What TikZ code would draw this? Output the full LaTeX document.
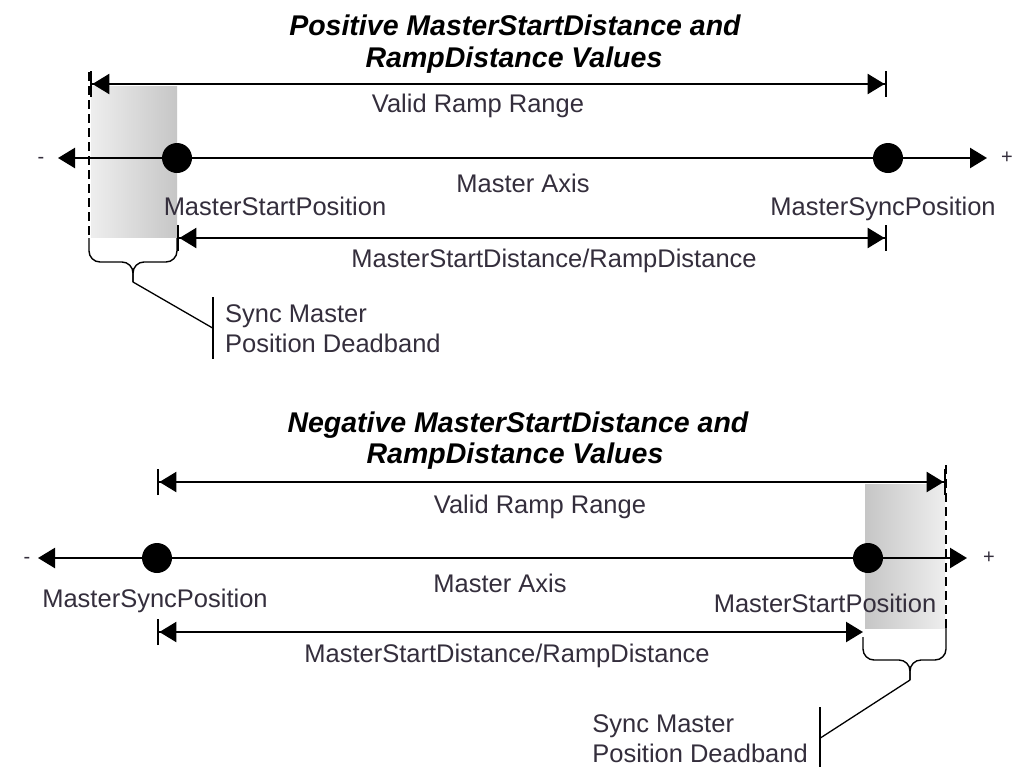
\documentclass[tikz,border=0pt]{standalone}
\usepackage{fontspec}
\setmainfont{Liberation Sans}
\usetikzlibrary{arrows.meta}
\definecolor{labelgray}{RGB}{52,46,60}
\definecolor{bandlight}{RGB}{238,238,238}
\definecolor{banddark}{RGB}{198,198,198}

\tikzset{
  heading/.style={font=\fontsize{28.5}{33}\selectfont\bfseries\itshape, anchor=base, inner sep=0pt},
  lbl/.style={font=\fontsize{25.5}{30}\selectfont, text=labelgray, anchor=base, inner sep=0pt},
  sign/.style={font=\fontsize{20}{22}\selectfont, text=labelgray, inner sep=0pt},
  posdot/.style={circle, fill=black, minimum size=30pt, inner sep=0pt},
  axisline/.style={line width=2.4pt, {Triangle[length=17pt,width=20pt]}-{Triangle[length=17pt,width=20pt]}},
  rangeline/.style={line width=2.4pt, {Bar[width=26pt]Triangle[length=17pt,width=20pt,sep=0pt]}-{Triangle[length=17pt,width=20pt,sep=0pt]Bar[width=26pt]}},
  rangeopen/.style={line width=2.4pt, {Bar[width=26pt]Triangle[length=17pt,width=20pt,sep=0pt]}-{Triangle[length=17pt,width=20pt]}},
  bandedge/.style={line width=1.4pt, dash pattern=on 9pt off 5pt},
  bracket/.style={line width=1.4pt, rounded corners=11pt},
  leader/.style={line width=1.3pt},
  dbtext/.style={font=\fontsize{25.5}{30}\selectfont, text=labelgray, align=left, inner xsep=12pt, inner ysep=7pt}
}

\begin{document}
\begin{tikzpicture}[x=1pt, y=-1pt]
  \useasboundingbox[fill=white] (0,0) rectangle (1014,766);

  % ---- positive distances ----
  \node[heading] (headA1) at (515,35) {Positive MasterStartDistance and};
  \node[heading] (headA2) at (514,67) {RampDistance Values};

  % deadband band behind the lines
  \shade[left color=bandlight, right color=banddark] (91,86) rectangle (177,237);

  \coordinate (rampA1) at (90,84);
  \coordinate (rampA2) at (887,84);
  \draw[rangeline] (rampA1) -- (rampA2);
  \node[lbl] (rampAlbl) at (478,112) {Valid Ramp Range};

  \coordinate (axA1) at (58,158);
  \coordinate (axA2) at (987,158);
  \draw[axisline] (axA1) -- (axA2);
  \node[sign] (minusA) at (41,160) {-};
  \node[sign] (plusA) at (1007,158) {+};
  \node[posdot] (startA) at (177,158) {};
  \node[posdot] (syncA) at (888,158) {};
  \node[lbl] (axAlbl) at (523,192) {Master Axis};
  \node[lbl] (startAlbl) at (275,215) {MasterStartPosition};
  \node[lbl] (syncAlbl) at (883,215) {MasterSyncPosition};

  \coordinate (distA1) at (177,238);
  \coordinate (distA2) at (887,238);
  \draw[rangeline] (distA1) -- (distA2);
  \node[lbl] (distAlbl) at (554,267) {MasterStartDistance/RampDistance};

  % deadband edge and bracket
  \coordinate (edgeA) at (89,72);
  \coordinate (braceA) at (89,238);
  \coordinate (tipA) at (133,282);
  \draw[bandedge] (edgeA) -- (braceA);
  \draw[bracket] (braceA) |- (133,262) -- (tipA);
  \draw[bracket] (distA1) |- (133,262) -- (tipA);

  \node[dbtext, anchor=north west] (dbA) at (213,297) {Sync Master\\Position Deadband};
  \draw[leader] (dbA.north west) -- (dbA.south west);
  \draw[leader] (tipA) -- (dbA.west);

  % ---- negative distances ----
  \node[heading] (headB1) at (518,432) {Negative MasterStartDistance and};
  \node[heading] (headB2) at (515,463) {RampDistance Values};

  \shade[left color=banddark, right color=bandlight] (865,484) rectangle (945,628);

  \coordinate (rampB1) at (157,482);
  \coordinate (rampB2) at (946,482);
  \draw[rangeline] (rampB1) -- (rampB2);
  \node[lbl] (rampBlbl) at (540,513) {Valid Ramp Range};

  \coordinate (axB1) at (38,558);
  \coordinate (axB2) at (967,558);
  \draw[axisline] (axB1) -- (axB2);
  \node[sign] (minusB) at (27,560) {-};
  \node[sign] (plusB) at (989,558) {+};
  \node[posdot] (syncB) at (157,558) {};
  \node[posdot] (startB) at (868,558) {};
  \node[lbl] (axBlbl) at (500,592) {Master Axis};
  \node[lbl] (syncBlbl) at (155,607) {MasterSyncPosition};
  \node[lbl] (startBlbl) at (825,612) {MasterStartPosition};

  \coordinate (distB1) at (157,632);
  \coordinate (distB2) at (863,632);
  \draw[rangeopen] (distB1) -- (distB2);
  \node[lbl] (distBlbl) at (507,662) {MasterStartDistance/RampDistance};

  \coordinate (edgeB) at (946,465);
  \coordinate (braceB) at (946,628);
  \coordinate (tipB) at (910,680);
  \draw[bandedge] (edgeB) -- (braceB);
  \draw[bracket] (863,637) |- (910,660) -- (tipB);
  \draw[bracket] (braceB) |- (910,660) -- (tipB);

  \node[dbtext, anchor=north east] (dbB) at (820,707) {Sync Master\\Position Deadband};
  \draw[leader] (dbB.north east) -- (dbB.south east);
  \draw[leader] (tipB) -- (dbB.east);
\end{tikzpicture}
\end{document}
